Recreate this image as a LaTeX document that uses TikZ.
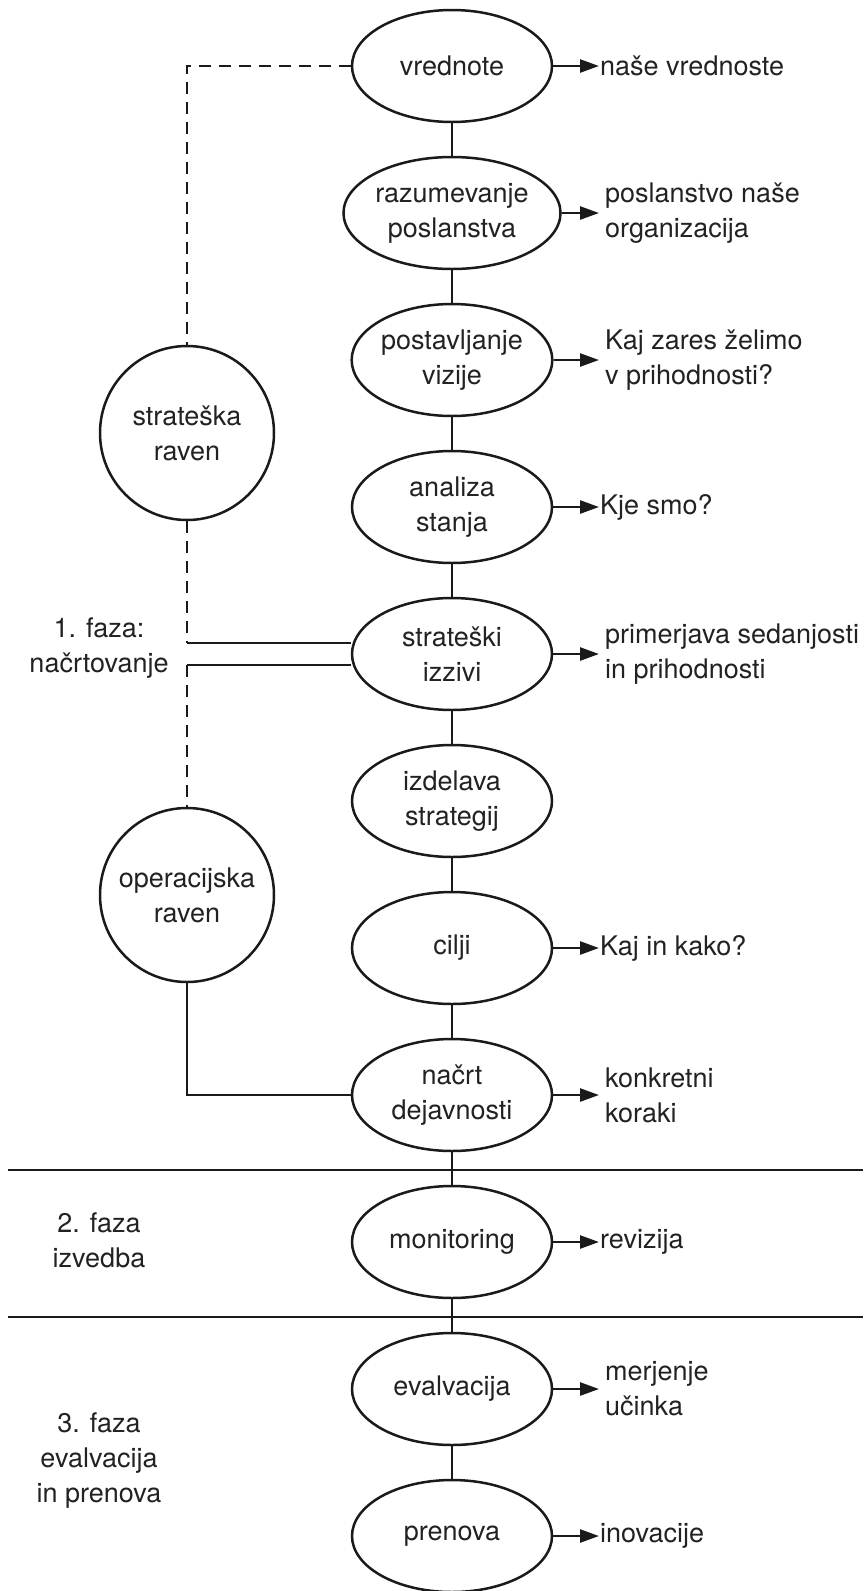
\documentclass[tikz,border=0pt]{standalone}
\usepackage{fontspec}
\setmainfont{TeX Gyre Heros}
\usetikzlibrary{shapes.geometric,arrows.meta}
\definecolor{ink}{HTML}{1A1A1A}
\definecolor{txt}{HTML}{222222}
\begin{document}
\begin{tikzpicture}[x=1pt,y=-1pt,
  every node/.style={font=\fontsize{27}{35}\selectfont, text=txt},
  stage/.style={ellipse, draw=ink, line width=2.5pt, minimum width=200pt,
                minimum height=112pt, inner sep=0pt, align=center},
  level/.style={circle, draw=ink, line width=2.5pt, minimum size=174pt,
                inner sep=0pt, align=center},
  result/.style={anchor=west, align=left, inner xsep=1pt, inner ysep=0pt},
  result2/.style={result, inner xsep=6pt},
  phase/.style={align=center, inner sep=0pt},
  link/.style={draw=ink, line width=2.5pt},
  dashlink/.style={draw=ink, line width=2.5pt, dash pattern=on 12pt off 8pt},
  toresult/.style={link, -{Triangle[length=19pt,width=13pt]}},
  rule/.style={draw=ink, line width=2.8pt}
]
\useasboundingbox (0,0) rectangle (863,1591);
\fill[white] (0,0) rectangle (863,1591);

% main sequence of stages
\node[stage] (s1)  at (452,66)   {vrednote};
\node[stage] (s2)  at (452,213)  {razumevanje\\poslanstva};
\node[stage] (s3)  at (452,360)  {postavljanje\\vizije};
\node[stage] (s4)  at (452,507)  {analiza\\stanja};
\node[stage] (s5)  at (452,654)  {strateški\\izzivi};
\node[stage] (s6)  at (452,801)  {izdelava\\strategij};
\node[stage] (s7)  at (452,948)  {cilji};
\node[stage] (s8)  at (452,1095) {načrt\\dejavnosti};
\node[stage] (s9)  at (452,1242) {monitoring};
\node[stage] (s10) at (452,1389) {evalvacija};
\node[stage] (s11) at (452,1536) {prenova};

\foreach \a/\b in {s1/s2,s2/s3,s3/s4,s4/s5,s5/s6,s6/s7,s7/s8,s8/s9,s9/s10,s10/s11}
  \draw[link] (\a) -- (\b);

% outcomes of the stages
\node[result]  (r1)  at (599,66)   {naše vrednoste};
\node[result2] (r2)  at (599,213)  {poslanstvo naše\\organizacija};
\node[result2] (r3)  at (599,360)  {Kaj zares želimo\\v prihodnosti?};
\node[result]  (r4)  at (599,507)  {Kje smo?};
\node[result2] (r5)  at (599,654)  {primerjava sedanjosti\\in prihodnosti};
\node[result]  (r7)  at (599,948)  {Kaj in kako?};
\node[result2] (r8)  at (599,1095) {konkretni\\koraki};
\node[result]  (r9)  at (599,1242) {revizija};
\node[result2] (r10) at (599,1389) {merjenje\\učinka};
\node[result]  (r11) at (599,1536) {inovacije};

\foreach \a/\b in {s1/r1,s2/r2,s3/r3,s4/r4,s5/r5,s7/r7,s8/r8,s9/r9,s10/r10,s11/r11}
  \draw[toresult] (\a.east) -- (\b.west);

% strategic and operational levels
\node[level] (strat) at (187,433) {strateška\\raven};
\node[level] (oper)  at (187,895) {operacijska\\raven};

\coordinate (k1) at (187,643);
\coordinate (k2) at (187,665);
\draw[dashlink] (s1.west) -| (strat.north);
\draw[dashlink] (strat.south) -- (k1);
\draw[link] (k1) -- (k1 -| s5.west);
\draw[link] (k2 -| s5.west) -- (k2);
\draw[dashlink] (k2) -- (oper.north);
\draw[link] (oper.south) |- (s8.west);

% phase separators
\coordinate (a1) at (8,1170);
\coordinate (b1) at (863,1170);
\coordinate (a2) at (8,1317);
\coordinate (b2) at (863,1317);
\draw[rule] (a1) -- (b1);
\draw[rule] (a2) -- (b2);

% phase labels
\node[phase] (p1) at (99,648)  {1. faza:\\načrtovanje};
\node[phase] (p2) at (99,1240) {2. faza\\izvedba};
\node[phase] (p3) at (99,1461) {3. faza\\evalvacija\\in prenova};
\end{tikzpicture}
\end{document}
